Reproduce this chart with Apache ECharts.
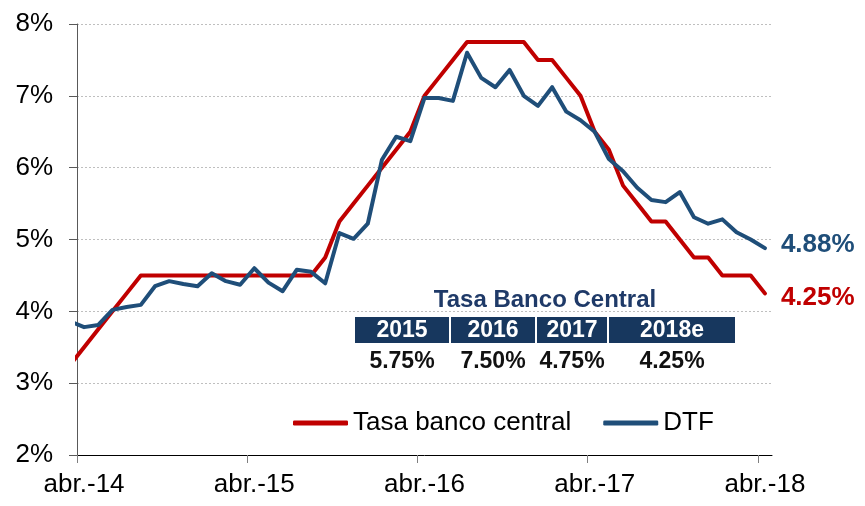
<!DOCTYPE html>
<html>
<head>
<meta charset="utf-8">
<title>Tasa banco central vs DTF</title>
<script src="https://cdn.jsdelivr.net/npm/echarts@6/dist/echarts.min.js"></script>
<style>
  html, body { margin: 0; padding: 0; background: #fff; }
  #chart { width: 865px; height: 506px; }
</style>
</head>
<body>
<div id="chart"></div>
<script>
// meses (mar.-14 queda fuera del eje, solo sirve para el primer tramo)
var months = [
  'mar.-14', 'abr.-14', 'may.-14', 'jun.-14', 'jul.-14', 'ago.-14', 'sep.-14', 'oct.-14', 'nov.-14', 'dic.-14',
  'ene.-15', 'feb.-15', 'mar.-15', 'abr.-15', 'may.-15', 'jun.-15', 'jul.-15', 'ago.-15', 'sep.-15', 'oct.-15',
  'nov.-15', 'dic.-15', 'ene.-16', 'feb.-16', 'mar.-16', 'abr.-16', 'may.-16', 'jun.-16', 'jul.-16', 'ago.-16',
  'sep.-16', 'oct.-16', 'nov.-16', 'dic.-16', 'ene.-17', 'feb.-17', 'mar.-17', 'abr.-17', 'may.-17', 'jun.-17',
  'jul.-17', 'ago.-17', 'sep.-17', 'oct.-17', 'nov.-17', 'dic.-17', 'ene.-18', 'feb.-18', 'mar.-18', 'abr.-18'
]

var tasaBancoCentral = [
  3.25, 3.50, 3.75, 4.00, 4.25, 4.50, 4.50, 4.50, 4.50, 4.50,
  4.50, 4.50, 4.50, 4.50, 4.50, 4.50, 4.50, 4.50, 4.75, 5.25,
  5.50, 5.75, 6.00, 6.25, 6.50, 7.00, 7.25, 7.50, 7.75, 7.75,
  7.75, 7.75, 7.75, 7.50, 7.50, 7.25, 7.00, 6.50, 6.25, 5.75,
  5.50, 5.25, 5.25, 5.00, 4.75, 4.75, 4.50, 4.50, 4.50, 4.25
]

var dtf = [
  3.86, 3.78, 3.81, 4.02, 4.06, 4.09, 4.35, 4.42, 4.38, 4.35,
  4.53, 4.42, 4.37, 4.60, 4.40, 4.28, 4.58, 4.55, 4.39, 5.09,
  5.01, 5.22, 6.11, 6.43, 6.37, 6.97, 6.97, 6.93, 7.60, 7.25,
  7.12, 7.36, 7.00, 6.86, 7.12, 6.78, 6.66, 6.50, 6.12, 5.95,
  5.72, 5.55, 5.52, 5.66, 5.31, 5.22, 5.28, 5.10, 5.00, 4.88
]

var yTicks = [2, 3, 4, 5, 6, 7, 8]
var xLabelMonths = ['abr.-14', 'abr.-15', 'abr.-16', 'abr.-17', 'abr.-18']

// tabla "Tasa Banco Central"
var tableYears = ['2015', '2016', '2017', '2018e']
var tableRates = ['5.75%', '7.50%', '4.75%', '4.25%']

var FONT = '"Liberation Sans", Arial, sans-serif'
var RED = '#C00000'
var BLUE = '#1F4E79'
var NAVY = '#17375E'

// posicion del mes en el eje x: centro del mes, abr.-14 = 0.5
function toPairs (values) {
  return values.map(function (v, i) { return [i - 0.5, v] })
}
function monthPos (name) {
  return months.indexOf(name) - 0.5
}

// geometria de la tabla
var cellWidths = [94, 84, 70, 126]
var tableLeft = 355
var headerTop = 317
var headerHeight = 26
var cellGap = 2

function buildTable () {
  var els = []
  var totalW = cellWidths.reduce(function (a, b) { return a + b }, 0) + cellGap * (cellWidths.length - 1)
  els.push({
    type: 'text',
    x: tableLeft + totalW / 2,
    y: 300,
    style: {
      text: 'Tasa Banco Central',
      font: 'bold 24px ' + FONT,
      fill: '#1F3A68',
      align: 'center',
      verticalAlign: 'middle'
    },
    z: 10
  })
  var x = tableLeft
  tableYears.forEach(function (year, i) {
    var w = cellWidths[i]
    els.push({
      type: 'rect',
      shape: { x: x, y: headerTop, width: w, height: headerHeight },
      style: { fill: NAVY },
      z: 10
    })
    els.push({
      type: 'text',
      x: x + w / 2,
      y: headerTop + headerHeight / 2 + 1,
      style: {
        text: year,
        font: 'bold 23px ' + FONT,
        fill: '#fff',
        align: 'center',
        verticalAlign: 'middle'
      },
      z: 11
    })
    els.push({
      type: 'text',
      x: x + w / 2,
      y: 362,
      style: {
        text: tableRates[i],
        font: 'bold 23px ' + FONT,
        fill: '#111',
        align: 'center',
        verticalAlign: 'middle'
      },
      z: 11
    })
    x += w + cellGap
  })
  return els
}

var chart = echarts.init(document.getElementById('chart'), null, { renderer: 'canvas' })

var option = {
  animation: false,
  backgroundColor: '#fff',
  textStyle: { fontFamily: FONT },
  grid: { left: 77, right: 93, top: 24, bottom: 51, containLabel: false },
  legend: {
    left: 288,
    top: 405,
    icon: 'roundRect',
    itemWidth: 55,
    itemHeight: 5,
    itemGap: 32,
    textStyle: { fontSize: 26, color: '#000', fontFamily: FONT },
    data: ['Tasa banco central', 'DTF']
  },
  xAxis: {
    type: 'value',
    min: 0,
    max: 49,
    axisLine: { show: true, lineStyle: { color: '#000', width: 1 } },
    axisTick: {
      show: true,
      length: 8,
      customValues: xLabelMonths.map(function (m) { return monthPos(m) - 0.5 }),
      lineStyle: { color: '#7f7f7f', width: 1 }
    },
    axisLabel: {
      customValues: xLabelMonths.map(monthPos),
      margin: 17,
      fontSize: 26,
      color: '#000',
      fontFamily: FONT,
      formatter: function (v) { return months[Math.round(v + 0.5)] }
    },
    splitLine: { show: false }
  },
  yAxis: {
    type: 'value',
    min: yTicks[0],
    max: yTicks[yTicks.length - 1],
    interval: 1,
    axisLine: { show: true, lineStyle: { color: '#595959', width: 1 } },
    axisTick: { show: true, length: 8, lineStyle: { color: '#595959' } },
    axisLabel: {
      margin: 24,
      fontSize: 26,
      color: '#000',
      fontFamily: FONT,
      formatter: '{value}%'
    },
    splitLine: { show: true, lineStyle: { color: '#bfbfbf', type: [2, 2], width: 1 } }
  },
  series: [
    {
      name: 'Tasa banco central',
      type: 'line',
      data: toPairs(tasaBancoCentral),
      symbol: 'none',
      clip: true,
      lineStyle: { color: RED, width: 4, cap: 'round', join: 'round' },
      itemStyle: { color: RED },
      endLabel: {
        show: true,
        distance: 16,
        offset: [0, 4],
        formatter: function (p) { return p.value[1].toFixed(2) + '%' },
        color: RED,
        fontSize: 26,
        fontWeight: 'bold',
        fontFamily: FONT
      }
    },
    {
      name: 'DTF',
      type: 'line',
      data: toPairs(dtf),
      symbol: 'none',
      clip: true,
      lineStyle: { color: BLUE, width: 4, cap: 'round', join: 'round' },
      itemStyle: { color: BLUE },
      endLabel: {
        show: true,
        distance: 16,
        offset: [0, -3],
        formatter: function (p) { return p.value[1].toFixed(2) + '%' },
        color: BLUE,
        fontSize: 26,
        fontWeight: 'bold',
        fontFamily: FONT
      }
    }
  ],
  graphic: buildTable()
}

chart.setOption(option)
</script>
</body>
</html>
